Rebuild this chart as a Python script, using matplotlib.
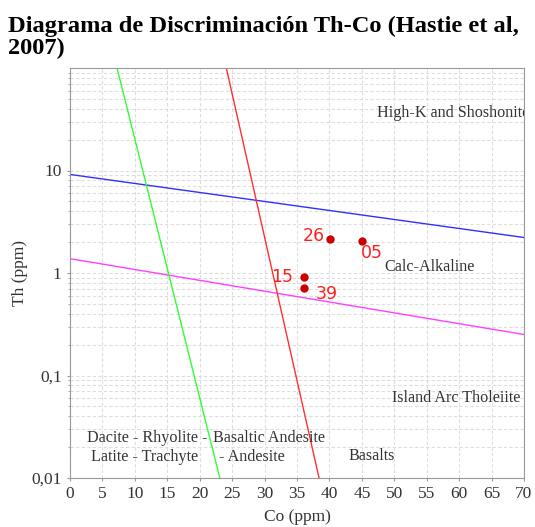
import matplotlib.pyplot as plt
import numpy
from matplotlib.ticker import FixedLocator, LogLocator, NullFormatter

# boundary lines as (Co, Th) end points
blue_co = [0, 70]
blue_th = [9.15, 2.22]
pink_co = [0, 70]
pink_th = [1.38, 0.251]
green_co = [7.25, 23.1]
green_th = [100, 0.01]
red_co = [24.1, 38.4]
red_th = [100, 0.01]

# samples
sample_names = ['26', '05', '15', '39']
sample_co = [40.1, 45.0, 36.1, 36.1]
sample_th = [2.17, 2.07, 0.92, 0.71]
label_offsets = [(-4, 1.5), (-0.5, -9), (-8, 0), (8, -4)]
label_align = ['right', 'left', 'right', 'left']

# field names
field_names = ['High-K and Shoshonite', 'Calc-Alkaline', 'Island Arc Tholeiite',
               'Dacite - Rhyolite -', 'Basaltic Andesite',
               'Latite - Trachyte', '- Andesite', 'Basalts']
field_co = [47.3, 48.4, 49.6, 2.6, 22.0, 3.2, 23.0, 43.0]
field_th = [36.8, 1.157, 0.061, 0.0248, 0.0248, 0.0162, 0.0162, 0.0164]

serif = ['Liberation Serif', 'DejaVu Serif']

fig = plt.figure(figsize=(5.35, 5.27), dpi=100)
ax = fig.add_axes([70 / 535, 1 - 478 / 527, 454 / 535, 410 / 527])

ax.plot(blue_co, blue_th, color='#3030ff', linewidth=1)
ax.plot(pink_co, pink_th, color='#ff40ff', linewidth=1)
ax.plot(green_co, green_th, color='#30ff30', linewidth=1)
ax.plot(red_co, red_th, color='#ff3030', linewidth=1)

ax.plot(sample_co, sample_th, linestyle='None', marker='o', markersize=5,
        color='#cc0000', zorder=5)
for i in range(len(sample_names)):
    ax.annotate(sample_names[i], (sample_co[i], sample_th[i]), xytext=label_offsets[i],
                textcoords='offset points', ha=label_align[i], va='center',
                color='#ff2020', fontsize=12.5, fontfamily='DejaVu Sans')

for i in range(len(field_names)):
    ax.text(field_co[i], field_th[i], field_names[i], ha='left', va='center',
            fontsize=11.6, family=serif, color='#333333', clip_on=True)

ax.set_yscale('log')
ax.set_xlim(0, 70)
ax.set_ylim(0.01, 100)
ax.set_xticks(numpy.arange(0, 71, 5))
ax.yaxis.set_major_locator(FixedLocator([0.01, 0.1, 1, 10]))
ax.set_yticklabels(['0,01', '0,1', '1', '10'])
ax.yaxis.set_minor_locator(LogLocator(base=10, subs=numpy.arange(2, 10)))
ax.yaxis.set_minor_formatter(NullFormatter())

ax.grid(True, which='both', linestyle=(0, (3, 2)), color='#dddddd', linewidth=0.8)
ax.set_axisbelow(True)
for s in ax.spines.values():
    s.set_color('#999999')
ax.tick_params(which='both', colors='#999999', labelcolor='#333333', labelsize=12.5,
               length=2.5)
ax.tick_params(which='minor', length=1.5)
for lab in ax.get_xticklabels() + ax.get_yticklabels():
    lab.set_family(serif)

ax.set_xlabel('Co (ppm)', family=serif, fontsize=12.5, color='#333333', labelpad=5)
ax.set_ylabel('Th (ppm)', family=serif, fontsize=12.5, color='#333333')
ax.yaxis.set_label_coords(-0.093, 0.5)

fig.text(8 / 535, 1 - 16 / 527, 'Diagrama de Discriminación Th-Co (Hastie et al,\n2007)',
         ha='left', va='top', fontsize=17.6, fontweight='bold', family=serif,
         linespacing=1.02)

plt.savefig('out.png', dpi=100)
